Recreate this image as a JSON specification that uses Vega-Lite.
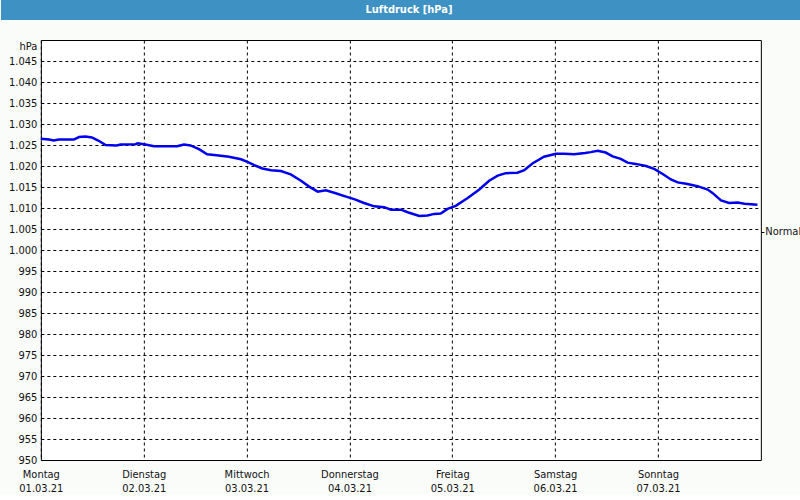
{
  "$schema": "https://vega.github.io/schema/vega-lite/v6.json",
  "padding": 0,
  "background": "#fafcfa",
  "spacing": 19,
  "center": true,
  "config": {
    "locale": {"number": {"decimal": ",", "thousands": ".", "grouping": [3], "currency": ["", " €"]}},
    "font": "DejaVu Sans Condensed",
    "axis": {"labelFont": "DejaVu Sans Condensed", "labelFontSize": 11, "labelColor": "#111", "titleFont": "DejaVu Sans Condensed"}
  },
  "vconcat": [
    {
      "width": 840,
      "height": 20,
      "view": {"fill": "#3d91c3", "stroke": null},
      "data": {"values": [{"t": "Luftdruck [hPa]"}]},
      "mark": {"type": "text", "color": "white", "fontWeight": "bold", "fontSize": 11, "dx": -12, "baseline": "middle"},
      "encoding": {"text": {"field": "t"}}
    },
    {
      "width": 720,
      "height": 420,
      "view": {"fill": "white", "stroke": "black", "strokeWidth": 1},
      "layer": [
        {
          "data": {"values": [
            {"h": 0, "p": 1026.5}, {"h": 1.9, "p": 1026.3}, {"h": 3, "p": 1026.1}, {"h": 4.2, "p": 1026.3},
            {"h": 7.7, "p": 1026.3}, {"h": 8.9, "p": 1026.9}, {"h": 10.4, "p": 1027.0}, {"h": 11.9, "p": 1026.8},
            {"h": 13.5, "p": 1026.0}, {"h": 15.1, "p": 1025.0}, {"h": 17.7, "p": 1024.9}, {"h": 18.6, "p": 1025.1},
            {"h": 22.1, "p": 1025.2}, {"h": 22.6, "p": 1025.4}, {"h": 24.4, "p": 1025.1}, {"h": 26.4, "p": 1024.7},
            {"h": 31.8, "p": 1024.7}, {"h": 33.4, "p": 1025.1}, {"h": 34.9, "p": 1024.9}, {"h": 36.9, "p": 1024.0},
            {"h": 38.8, "p": 1022.8}, {"h": 41.5, "p": 1022.5}, {"h": 43.9, "p": 1022.2}, {"h": 46.7, "p": 1021.6},
            {"h": 48.2, "p": 1021.0}, {"h": 49.8, "p": 1020.2}, {"h": 51.7, "p": 1019.4}, {"h": 53.7, "p": 1019.0},
            {"h": 56, "p": 1018.8}, {"h": 58.3, "p": 1018.0}, {"h": 60.7, "p": 1016.5}, {"h": 62.6, "p": 1015.1},
            {"h": 64.6, "p": 1013.9}, {"h": 66.5, "p": 1014.2}, {"h": 68.8, "p": 1013.5}, {"h": 71.2, "p": 1012.7},
            {"h": 73.1, "p": 1012.1}, {"h": 75.4, "p": 1011.2}, {"h": 77.8, "p": 1010.4}, {"h": 80.1, "p": 1010.2},
            {"h": 81.7, "p": 1009.6}, {"h": 84, "p": 1009.6}, {"h": 85.6, "p": 1009.0}, {"h": 88.3, "p": 1008.1},
            {"h": 90.2, "p": 1008.2}, {"h": 91.8, "p": 1008.6}, {"h": 93.3, "p": 1008.7}, {"h": 94.9, "p": 1009.8},
            {"h": 96.8, "p": 1010.5}, {"h": 99.6, "p": 1012.4}, {"h": 102.3, "p": 1014.4}, {"h": 104.6, "p": 1016.5},
            {"h": 106.6, "p": 1017.7}, {"h": 108.5, "p": 1018.3}, {"h": 111.2, "p": 1018.4}, {"h": 112.8, "p": 1019.0},
            {"h": 114.7, "p": 1020.6}, {"h": 117.4, "p": 1022.2}, {"h": 120.2, "p": 1022.9}, {"h": 122.1, "p": 1022.9},
            {"h": 124.4, "p": 1022.8}, {"h": 127, "p": 1023.1}, {"h": 128.3, "p": 1023.3}, {"h": 129.9, "p": 1023.6},
            {"h": 131.8, "p": 1023.2}, {"h": 133.4, "p": 1022.3}, {"h": 135.3, "p": 1021.7}, {"h": 136.9, "p": 1020.8},
            {"h": 138.8, "p": 1020.5}, {"h": 141.2, "p": 1020.0}, {"h": 143.1, "p": 1019.3}, {"h": 145.1, "p": 1018.1},
            {"h": 147, "p": 1016.8}, {"h": 148.6, "p": 1016.1}, {"h": 150.9, "p": 1015.7}, {"h": 153.2, "p": 1015.2},
            {"h": 155.6, "p": 1014.4}, {"h": 156.7, "p": 1013.6}, {"h": 158.7, "p": 1011.8}, {"h": 160.6, "p": 1011.2},
            {"h": 162.6, "p": 1011.3}, {"h": 164.2, "p": 1011.0}, {"h": 167.2, "p": 1010.8}
          ]},
          "mark": {"type": "line", "color": "#0000ee", "strokeWidth": 2.5, "interpolate": "linear"},
          "encoding": {
            "x": {
              "field": "h", "type": "quantitative",
              "scale": {"domain": [0, 168], "nice": false, "zero": false},
              "axis": {
                "title": null, "orient": "bottom",
                "values": [0, 24, 48, 72, 96, 120, 144],
                "labelExpr": "[['Montag','01.03.21'],['Dienstag','02.03.21'],['Mittwoch','03.03.21'],['Donnerstag','04.03.21'],['Freitag','05.03.21'],['Samstag','06.03.21'],['Sonntag','07.03.21']][round(datum.value/24)]",
                "labelFlush": false, "labelOverlap": false, "labelBaseline": "top", "labelPadding": 8, "labelLineHeight": 14,
                "domain": false, "ticks": false,
                "grid": true, "gridColor": "black", "gridDash": [3, 3], "gridWidth": 1, "gridOpacity": 1
              }
            },
            "y": {
              "field": "p", "type": "quantitative",
              "scale": {"domain": [950, 1050], "nice": false, "zero": false},
              "axis": {
                "title": "hPa", "titleAngle": 0, "titleAlign": "right", "titleBaseline": "middle",
                "titleX": -4, "titleY": 6, "titleFontSize": 11, "titleFontWeight": "normal", "titleColor": "#111",
                "values": [950, 955, 960, 965, 970, 975, 980, 985, 990, 995, 1000, 1005, 1010, 1015, 1020, 1025, 1030, 1035, 1040, 1045],
                "format": ",d",
                "labelPadding": 4, "minExtent": 40, "maxExtent": 40,
                "domain": false, "ticks": false,
                "grid": true, "gridColor": "black", "gridDash": [3, 3], "gridWidth": 1, "gridOpacity": 1
              }
            }
          }
        },
        {
          "data": {"values": [{"n": 1004.4}]},
          "mark": {"type": "point", "opacity": 0},
          "encoding": {
            "y": {
              "field": "n", "type": "quantitative",
              "scale": {"domain": [950, 1050], "nice": false, "zero": false},
              "axis": {
                "orient": "right", "title": null, "values": [1004.4], "labelExpr": "'Normal'",
                "domain": false, "ticks": true, "tickSize": 3, "tickColor": "black", "labelPadding": 1, "grid": false
              }
            }
          }
        }
      ],
      "resolve": {"axis": {"y": "independent"}}
    }
  ]
}
